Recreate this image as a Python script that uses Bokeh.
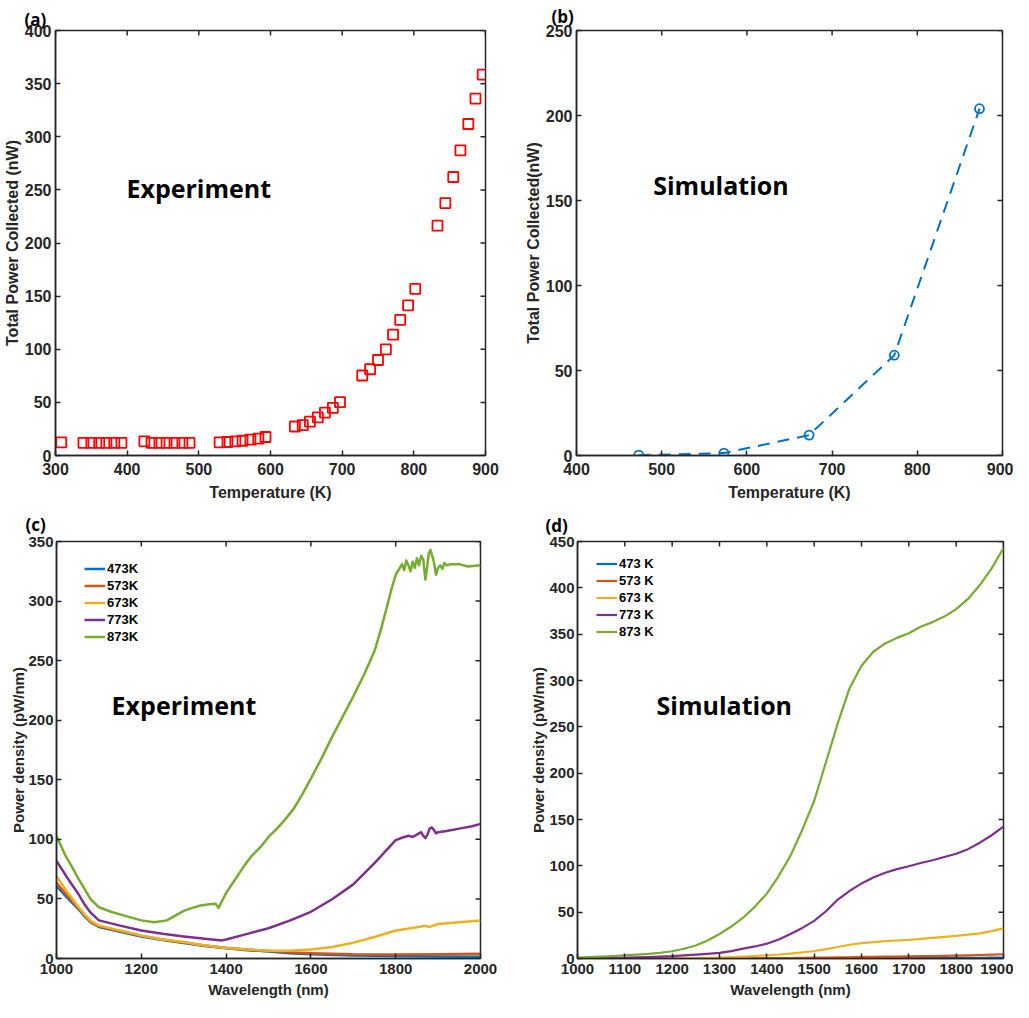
import math
from bokeh.plotting import figure
from bokeh.models import Label, FixedTicker, Range1d
from bokeh.layouts import column, row
from bokeh.embed import file_html
from bokeh.resources import INLINE

# ---------------- data ----------------
# (a) experiment: total power vs temperature
temp_exp = [308, 339, 350, 361, 371, 382, 392,
            424, 434, 445, 455, 466, 477, 487,
            529, 540, 551, 561, 572, 583, 593,
            634, 645, 655, 666, 676, 687, 697,
            728, 739, 750, 761, 771, 781, 792, 802,
            833, 844, 855, 865, 876, 886, 896]
power_exp = [12.4, 11.8, 11.8, 11.8, 11.8, 11.8, 11.8,
             13.3, 11.8, 11.8, 11.8, 11.8, 11.8, 11.8,
             12.4, 12.7, 13.3, 13.9, 14.9, 15.8, 17.4,
             27.3, 28.5, 31.9, 35.9, 40.3, 44.9, 50.2,
             75.3, 81.2, 89.9, 99.8, 113.7, 127.7, 141.3, 156.8,
             216.3, 237.6, 262.1, 287.2, 312.0, 335.9, 358.5]

# (b) simulation: total power vs temperature
temp_sim = [473, 573, 673, 773, 873]
power_sim = [0.2, 1.4, 12.0, 59.0, 204.0]

# (c) experiment spectra
labels_c = ["473K", "573K", "673K", "773K", "873K"]
wl_473_c = [1000, 1025, 1050, 1065, 1080, 1100, 1150, 1200, 1250, 1300, 1350, 1400, 1450, 1500, 1550, 1600, 1700, 1800, 1900, 2000]
pd_473_c = [61, 51, 42, 36, 30.5, 26.5, 22.5, 18.5, 15.5, 13, 10.5, 8.5, 7, 5.8, 4.5, 3.5, 2.5, 2, 1.7, 1.4]
wl_573_c = [1000, 1025, 1050, 1065, 1080, 1100, 1150, 1200, 1250, 1300, 1350, 1400, 1450, 1500, 1550, 1600, 1700, 1800, 1900, 2000]
pd_573_c = [63.5, 53, 43, 37, 31, 27, 23, 19, 16, 13.5, 11, 9, 7.5, 6.2, 5.2, 4.5, 3.5, 3.3, 3.5, 4]
wl_673_c = [1000, 1025, 1050, 1065, 1080, 1100, 1150, 1200, 1250, 1300, 1350, 1400, 1450, 1500, 1550, 1600, 1650, 1700, 1750, 1800, 1850, 1870, 1880, 1900, 1950, 2000]
pd_673_c = [69, 56, 44, 37.5, 31.8, 27.6, 23.5, 19.3, 16, 13.8, 11, 8.8, 7.5, 6.6, 6.6, 7.5, 9.7, 13.3, 18, 23.5, 26.2, 27.5, 26.5, 29, 30.4, 31.8]
wl_773_c = [1000, 1025, 1050, 1065, 1080, 1100, 1150, 1200, 1250, 1300, 1350, 1390, 1400, 1450, 1500, 1550, 1600, 1650, 1700, 1750, 1800,
            1820, 1830, 1840, 1850, 1860, 1865, 1870, 1875, 1880, 1885, 1890, 1895, 1900, 1920, 1950, 1980, 2000]
pd_773_c = [82, 68, 55, 46, 38.7, 32, 27.6, 23.5, 20.7, 18.5, 16.6, 15.2, 16, 20.7, 25.4, 31.8, 39.2, 49.7, 62.2, 80, 99.4,
            102, 103, 102, 104, 106, 103, 101, 104, 109, 110, 108, 105, 106, 107, 109, 111, 113]
wl_873_c = [1000, 1010, 1020, 1035, 1050, 1065, 1080, 1100, 1130, 1160, 1200, 1230, 1260, 1280, 1300, 1320, 1340, 1360, 1375, 1382,
            1390, 1400, 1415, 1430, 1445, 1460, 1480, 1500, 1520, 1540, 1560, 1580, 1600, 1625, 1650, 1675, 1700, 1725, 1750, 1765,
            1780, 1790, 1800, 1810, 1815, 1820, 1825, 1830, 1835, 1840,
            1845, 1850, 1855, 1860, 1865, 1870, 1873, 1878, 1882, 1886, 1890, 1895, 1900, 1905, 1910, 1915, 1920, 1930, 1950, 1970, 2000]
pd_873_c = [103, 95, 87, 78, 68, 59, 50, 43, 39, 36, 32, 30.5, 32, 36, 40, 42.5, 44.5, 45.5, 46, 42.5,
            48, 55, 63, 71, 79, 86, 93, 102, 109, 117, 126, 138, 151, 168, 186, 203, 220, 238, 258, 276,
            296, 310, 322, 328, 331, 326, 334, 330, 325, 333,
            328, 336, 330, 338, 335, 318, 325, 340, 343, 338, 333, 322, 328, 330, 327, 332, 330, 331, 331, 329, 330]

# (d) simulation spectra
labels_d = ["473 K", "573 K", "673 K", "773 K", "873 K"]
wl_d = [1000, 1025, 1050, 1075, 1100, 1125, 1150, 1175, 1200, 1225, 1250, 1275, 1300, 1325, 1350, 1375, 1400, 1425, 1450,
        1475, 1500, 1525, 1550, 1575, 1600, 1625, 1650, 1675, 1700, 1725, 1750, 1775, 1800, 1825, 1850, 1875, 1900]
pd_473_d = [0, 0, 0, 0, 0, 0, 0, 0, 0, 0, 0, 0, 0, 0, 0, 0, 0, 0.05, 0.1,
            0.1, 0.1, 0.2, 0.2, 0.2, 0.3, 0.3, 0.3, 0.35, 0.4, 0.45, 0.5, 0.55, 0.6, 0.7, 0.8, 0.9, 1.0]
pd_573_d = [0, 0, 0, 0, 0, 0, 0, 0, 0, 0, 0, 0.05, 0.1, 0.15, 0.2, 0.25, 0.3, 0.4, 0.5,
            0.6, 0.9, 1.0, 1.2, 1.35, 1.7, 1.75, 2.0, 2.1, 2.3, 2.5, 2.7, 2.9, 3.1, 3.4, 3.8, 4.2, 4.6]
pd_673_d = [0, 0, 0, 0, 0.05, 0.1, 0.1, 0.15, 0.2, 0.3, 0.4, 0.6, 1.0, 1.4, 2.0, 2.7, 3.5, 4.3, 5.3,
            6.6, 8.1, 10.2, 12.4, 14.8, 16.6, 17.7, 18.7, 19.4, 20.1, 21.2, 22.3, 23.3, 24.4, 25.7, 27.2, 29.5, 32.5]
pd_773_d = [0, 0.2, 0.4, 0.7, 1, 1.3, 1.6, 2, 2.5, 3.3, 4.2, 5, 6, 8, 10.6, 13, 16, 20.5, 26.5,
            33, 40.6, 51, 63.6, 73, 81, 87.5, 92.5, 96.5, 99.6, 103, 106, 109.5, 113, 118, 125, 133, 142.4]
pd_873_d = [1, 1.5, 2, 2.7, 3.5, 4.2, 5, 6.2, 7.8, 10.5, 14, 19.5, 26.5, 34.5, 44, 56, 70, 89, 111,
            139, 170, 212, 254, 292, 316, 331, 340, 346, 351, 358, 363, 369, 377, 388, 403, 421, 443]

MATLAB = ["#0072BD", "#D95319", "#EDB120", "#7E2F8E", "#77AC30"]
AX = "#262626"
AXFONT = "Liberation Sans"
LBLFONT = "Open Sans"


def make_fig(w, h, xr, yr, xticks, yticks, bl, br, bt, bb, tick_size, lab_size, xlabel, ylabel,
             y_std, ylab_std, x_std, xlab_std, tag, tag_offset, tag_standoff):
    p = figure(width=w, height=h, x_range=Range1d(*xr), y_range=Range1d(*yr),
               output_backend="svg", toolbar_location=None,
               min_border_left=bl, min_border_right=br, min_border_top=bt, min_border_bottom=bb)
    p.xgrid.visible = False
    p.ygrid.visible = False
    p.outline_line_color = AX
    p.outline_line_width = 1.5
    p.outline_line_alpha = 1.0
    p.background_fill_color = "white"
    p.border_fill_color = "white"
    # panel tag as the figure title, pulled left of the frame
    p.title.text = tag
    p.title.align = "left"
    p.title.offset = tag_offset
    p.title.standoff = tag_standoff
    p.title.text_font = LBLFONT
    p.title.text_font_style = "bold"
    p.title.text_font_size = "17px"
    p.title.text_color = "black"
    p.xaxis.ticker = FixedTicker(ticks=xticks)
    p.yaxis.ticker = FixedTicker(ticks=yticks)
    for ax in list(p.xaxis) + list(p.yaxis):
        ax.axis_line_color = AX
        ax.axis_line_width = 1.5
        ax.major_tick_line_color = AX
        ax.major_tick_line_width = 1.5
        ax.major_tick_in = 5
        ax.major_tick_out = 0
        ax.minor_tick_line_color = None
        ax.major_label_text_font = AXFONT
        ax.major_label_text_font_style = "bold"
        ax.major_label_text_font_size = tick_size
        ax.major_label_text_color = AX
        ax.axis_label_text_font = AXFONT
        ax.axis_label_text_font_style = "bold"
        ax.axis_label_text_font_size = lab_size
        ax.axis_label_text_color = AX
    p.xaxis.axis_label = xlabel
    p.xaxis.major_label_standoff = x_std
    p.xaxis.axis_label_standoff = xlab_std
    p.yaxis.axis_label = ylabel
    p.yaxis.major_label_standoff = y_std
    p.yaxis.axis_label_standoff = ylab_std
    # mirrored inward ticks on the top and right edges of the box
    p.ray(x=xticks, y=[yr[1]] * len(xticks), length=5, length_units="screen",
          angle=-math.pi / 2, line_color=AX, line_width=1.5)
    p.ray(x=[xr[1]] * len(yticks), y=yticks, length=5, length_units="screen",
          angle=math.pi, line_color=AX, line_width=1.5)
    return p


def big_text(p, text, x, y):
    p.add_layout(Label(x=x, y=y, text=text, text_font=LBLFONT, text_font_style="bold",
                       text_font_size="25px", text_color="black", text_baseline="alphabetic"))


def style_legend(p, loc):
    lg = p.legend[0]
    lg.location = loc
    lg.border_line_color = None
    lg.background_fill_alpha = 0
    lg.padding = 0
    lg.margin = 0
    lg.spacing = 0
    lg.glyph_width = 21
    lg.glyph_height = 17
    lg.label_height = 17
    lg.label_standoff = 2
    lg.label_text_font = AXFONT
    lg.label_text_font_style = "bold"
    lg.label_text_font_size = "13px"
    lg.label_text_color = "black"


# ---------------- (a) ----------------
pa = make_fig(502, 505, (300, 900), (0, 400), list(range(300, 901, 100)), list(range(0, 401, 50)),
              53, 17, 24, 50, "16px", "16px", "Temperature (K)", "Total Power Collected (nW)",
              4, 1, 7, 6, "(a)", -31, 0)
pa.scatter(temp_exp, power_exp, marker="square", size=10, fill_color=None,
           line_color="#FF0000", line_width=1.8)
big_text(pa, "Experiment", 399, 252)

# ---------------- (b) ----------------
pb = make_fig(511, 505, (400, 900), (0, 250), list(range(400, 901, 100)), list(range(0, 251, 50)),
              74, 11, 29, 50, "16px", "16px", "Temperature (K)", "Total Power Collected(nW)",
              4, 1, 7, 6, "(b)", -25, 5)
pb.line(temp_sim, power_sim, line_color=MATLAB[0], line_width=2, line_dash="12 8")
pb.scatter(temp_sim, power_sim, marker="circle", size=9, fill_color=None,
           line_color=MATLAB[0], line_width=1.8)
big_text(pb, "Simulation", 490, 159)

# ---------------- (c) ----------------
pc = make_fig(502, 497, (1000, 2000), (0, 350), list(range(1000, 2001, 200)), list(range(0, 351, 50)),
              56, 22, 35, 44, "15px", "15px", "Wavelength (nm)", "Power density (pW/nm)",
              3, -2, 5, 4, "(c)", -31, 11)
series_c = [(wl_473_c, pd_473_c), (wl_573_c, pd_573_c), (wl_673_c, pd_673_c),
            (wl_773_c, pd_773_c), (wl_873_c, pd_873_c)]
for (xs, ys), col, lab in zip(series_c, MATLAB, labels_c):
    pc.line(xs, ys, line_color=col, line_width=2.5, legend_label=lab, line_join="round")
style_legend(pc, (28, 313))
big_text(pc, "Experiment", 1130, 213)

# ---------------- (d) ----------------
pd_ = make_fig(511, 497, (1000, 1900), (0, 450), list(range(1000, 1901, 100)), list(range(0, 451, 50)),
               75, 10, 34, 44, "15px", "15px", "Wavelength (nm)", "Power density (pW/nm)",
               3, -1, 5, 4, "(d)", -32, 10)
series_d = [pd_473_d, pd_573_d, pd_673_d, pd_773_d, pd_873_d]
for ys, col, lab in zip(series_d, MATLAB, labels_d):
    pd_.line(wl_d, ys, line_color=col, line_width=2.2, legend_label=lab, line_join="round")
style_legend(pd_, (19, 318))
big_text(pd_, "Simulation", 1167, 274)

layout = column(row(pa, pb), row(pc, pd_))
open("out.html", "w").write(file_html(layout, INLINE))
